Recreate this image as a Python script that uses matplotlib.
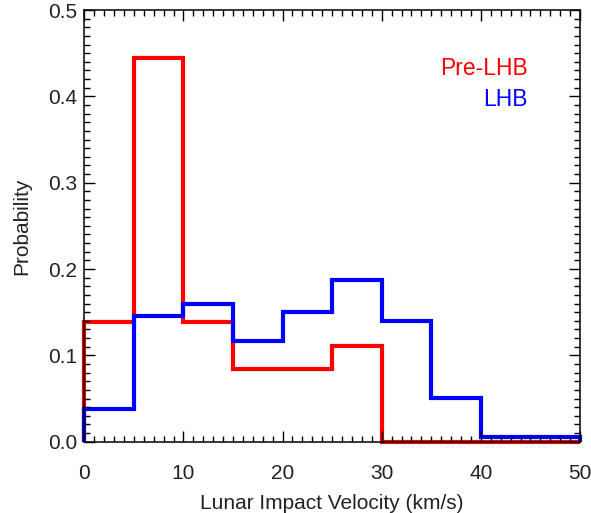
import matplotlib
matplotlib.use('Agg')
import matplotlib.pyplot as plt
import numpy as np
from matplotlib.ticker import MultipleLocator

plt.rcParams['font.family'] = ['Liberation Sans', 'DejaVu Sans']

# velocity bins (km/s)
edges = np.arange(0, 55, 5)

# probability per bin
pre_lhb = [0.139, 0.444, 0.139, 0.084, 0.084, 0.111, 0.0, 0.0, 0.0, 0.0]
lhb = [0.038, 0.146, 0.159, 0.117, 0.150, 0.187, 0.140, 0.051, 0.005, 0.005]

txt = '#222222'

fig = plt.figure(figsize=(5.91, 5.13), dpi=100)
ax = fig.add_axes([0.1426, 0.139, 0.8388, 0.8415])

ax.stairs(pre_lhb, edges, baseline=0, color='#ff0000', lw=3, clip_on=False)
ax.stairs(lhb, edges, baseline=0, color='#0000ff', lw=3, clip_on=False)

ax.set_xlim(0, 50)
ax.set_ylim(0, 0.5)

ax.xaxis.set_major_locator(MultipleLocator(10))
ax.xaxis.set_minor_locator(MultipleLocator(1))
ax.yaxis.set_major_locator(MultipleLocator(0.1))
ax.yaxis.set_minor_locator(MultipleLocator(0.01))
ax.yaxis.set_major_formatter(plt.FormatStrFormatter('%.1f'))

ax.tick_params(which='both', direction='in', top=True, right=True,
               colors='black', labelcolor=txt, labelsize=15)
ax.tick_params(which='major', length=8, width=1)
ax.tick_params(which='minor', length=4.5, width=1)
ax.tick_params(axis='x', which='major', pad=16)
ax.tick_params(axis='y', which='major', pad=5)

for s in ax.spines.values():
    s.set_linewidth(1.1)

ax.set_xlabel('Lunar Impact Velocity (km/s)', fontsize=15, color=txt, labelpad=8)
ax.set_ylabel('Probability', fontsize=15, color=txt, labelpad=12)

ax.text(0.8945, 0.8494, 'Pre-LHB', color='#ff0000', fontsize=16.5,
        ha='right', va='baseline', transform=ax.transAxes)
ax.text(0.8945, 0.7783, 'LHB', color='#0000ff', fontsize=16.5,
        ha='right', va='baseline', transform=ax.transAxes)

fig.savefig('out.png', dpi=100)
